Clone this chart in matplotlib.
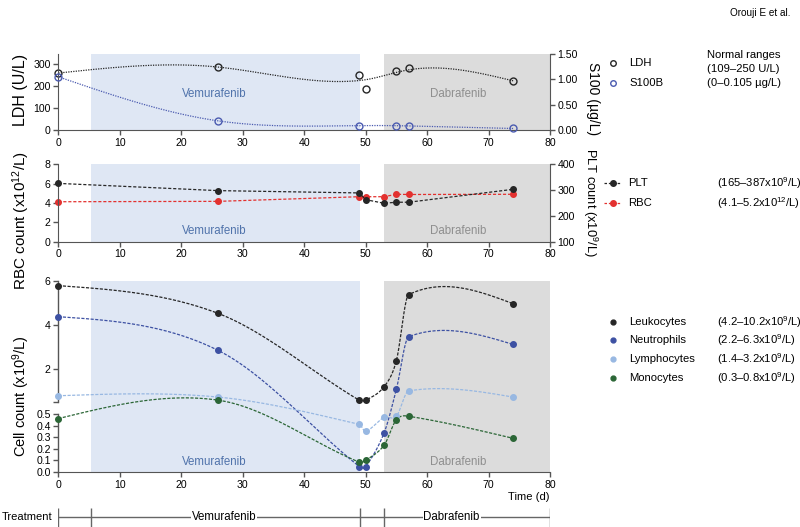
import numpy as np
import matplotlib
matplotlib.use('Agg')
import matplotlib.pyplot as plt
from matplotlib.lines import Line2D
from matplotlib.ticker import FormatStrFormatter

plt.rcParams['font.family'] = 'Liberation Sans'
plt.rcParams['mathtext.fontset'] = 'custom'
plt.rcParams['mathtext.rm'] = 'Liberation Sans'
plt.rcParams['mathtext.it'] = 'Liberation Sans:italic'

# ---- data ----
ldh_days = [0, 26, 49, 50, 55, 57, 74]
ldh = [258, 288, 250, 185, 270, 283, 221]
s100_days = [0, 26, 49, 55, 57, 74]
s100b = [1.05, 0.18, 0.086, 0.086, 0.08, 0.03]

days = [0, 26, 49, 50, 53, 55, 57, 74]
plt_count = [326, 298, 289, 263, 249, 253, 253, 303]
rbc = [4.13, 4.17, 4.65, 4.65, 4.65, 4.9, 4.88, 4.9]

leuko = [5.79, 4.53, 0.58, 0.58, 1.2, 2.38, 5.38, 4.97]
neutro = [4.38, 2.85, 0.046, 0.046, 0.336, 1.08, 3.47, 3.12]
lympho = [0.79, 0.73, 0.41, 0.35, 0.47, 0.48, 1.01, 0.73]
mono = [0.46, 0.59, 0.084, 0.10, 0.23, 0.45, 0.48, 0.29]

vem = (5.4, 49.1)
dab = (53.0, 80)
treat_marks = [0, 5.4, 49.1, 53.0, 80]

cell_labels = ['Leukocytes', 'Neutrophils', 'Lymphocytes', 'Monocytes']
cell_ranges = ['(4.2–10.2x10$^{9}$/L)', '(2.2–6.3x10$^{9}$/L)',
               '(1.4–3.2x10$^{9}$/L)', '(0.3–0.8x10$^{9}$/L)']

# colours
BLACK = '#262626'
S100C = '#4b5bb0'
NEUT = '#3d51a3'
LYMPH = '#98b8e2'
MONO = '#2b6636'
RED = '#e3312f'
VEM_BG = '#dfe7f4'
DAB_BG = '#dcdcdc'
VEM_TXT = '#5073ab'
DAB_TXT = '#8e8e8e'
AXC = '#555555'
FS = 8.1      # legend / annotation text
TFS = 7.6     # tick labels


def smooth(x, y, lam, step=0.1):
    # penalised smoothing curve over the measured points
    x = np.asarray(x, float)
    y = np.asarray(y, float)
    grid = np.arange(x[0], x[-1] + step / 2, step)
    n = len(grid)
    w = np.zeros(n)
    wy = np.zeros(n)
    idx = np.rint((x - grid[0]) / step).astype(int)
    np.add.at(w, idx, 1.0)
    np.add.at(wy, idx, y)
    d2 = np.diff(np.eye(n), 2, axis=0)
    z = np.linalg.solve(np.diag(w) + lam * d2.T @ d2, wy)
    return grid, z


def spline(x, y, step=0.1):
    # cubic Hermite curve through the points (finite-difference tangents)
    x = np.asarray(x, float)
    y = np.asarray(y, float)
    n = len(x)
    m = np.empty(n)
    m[1:-1] = (y[2:] - y[:-2]) / (x[2:] - x[:-2])
    m[0] = 1.5 * (y[1] - y[0]) / (x[1] - x[0]) - 0.5 * m[1]
    m[-1] = 1.5 * (y[-1] - y[-2]) / (x[-1] - x[-2]) - 0.5 * m[-2]
    xs = np.arange(x[0], x[-1] + step / 2, step)
    i = np.clip(np.searchsorted(x, xs, side='right') - 1, 0, n - 2)
    h = x[i + 1] - x[i]
    s = (xs - x[i]) / h
    h00 = 2 * s**3 - 3 * s**2 + 1
    h10 = s**3 - 2 * s**2 + s
    h01 = -2 * s**3 + 3 * s**2
    h11 = s**3 - s**2
    return xs, h00 * y[i] + h10 * h * m[i] + h01 * y[i + 1] + h11 * h * m[i + 1]


# broken y axis of the cell count panel: 0-0.5 stretched, gap, then 0.5-6
def fwd(y):
    y = np.asarray(y, float)
    return np.where(y <= 0.5, y * 116, np.where(y <= 0.51, 58 + (y - 0.5) * 1200, 70 + (y - 0.51) * 22))


def inv(t):
    t = np.asarray(t, float)
    return np.where(t <= 58, t / 116, np.where(t <= 70, 0.5 + (t - 58) / 1200, 0.51 + (t - 70) / 22))


W, H = 800, 527
fig = plt.figure(figsize=(8, 5.27), dpi=100)


def box(left, top, right, bottom):
    return [left / W, 1 - bottom / H, (right - left) / W, (bottom - top) / H]


def style(ax, twin=False):
    ax.spines['top'].set_visible(False)
    if twin:
        ax.spines['left'].set_visible(False)
        ax.spines['bottom'].set_visible(False)
        ax.spines['right'].set_color(AXC)
    else:
        ax.spines['right'].set_visible(False)
        ax.spines['left'].set_color(AXC)
        ax.spines['bottom'].set_color(AXC)
    ax.tick_params(labelsize=TFS, length=3.5, width=1, color=AXC, pad=2)
    ax.set_xlim(0, 80)
    ax.set_xticks(range(0, 81, 10))


def shade(ax, y_txt):
    ax.axvspan(*vem, color=VEM_BG, lw=0, zorder=0)
    ax.axvspan(*dab, color=DAB_BG, lw=0, zorder=0)
    ax.text(25.4, y_txt, 'Vemurafenib', color=VEM_TXT, fontsize=8.3, ha='center', va='center',
            transform=ax.get_xaxis_transform())
    ax.text(65, y_txt, 'Dabrafenib', color=DAB_TXT, fontsize=8.3, ha='center', va='center',
            transform=ax.get_xaxis_transform())


def fx(px):
    return px / W


def fy(py):
    return 1 - py / H


# ---- panel 1: LDH / S100B ----
ax1 = fig.add_axes(box(58.3, 54, 550, 130))
ax1r = ax1.twinx()
style(ax1)
style(ax1r, twin=True)
shade(ax1, 0.48)
ax1.set_ylim(0, 345)
ax1.set_yticks([0, 100, 200, 300])
ax1r.set_ylim(0, 1.5)
ax1r.set_yticks([0, 0.5, 1.0, 1.5])
ax1r.yaxis.set_major_formatter(FormatStrFormatter('%.2f'))

xg, zg = smooth(ldh_days, ldh, 3e4)
ax1.plot(xg, zg, color=BLACK, lw=0.9, ls=(0, (1, 1)))
ax1.plot(ldh_days, ldh, 'o', mfc='none', mec=BLACK, ms=5, mew=1, clip_on=False)
xg, zg = smooth(s100_days, s100b, 1e3)
ax1r.plot(xg, zg, color=S100C, lw=0.9, ls=(0, (1, 1)))
ax1r.plot(s100_days, s100b, 'o', mfc='none', mec=S100C, ms=5, mew=1, clip_on=False)

ax1.set_ylabel('LDH (U/L)', fontsize=11.5, va='center')
ax1.yaxis.set_label_coords(-0.076, 0.53)
ax1r.set_ylabel('S100 (µg/L)', fontsize=10, rotation=270, va='center', ha='center')
ax1r.yaxis.set_label_coords(1.088, 0.42)

# ---- panel 2: RBC / PLT ----
ax2 = fig.add_axes(box(58.3, 164.3, 550, 241.7))
ax2r = ax2.twinx()
style(ax2)
style(ax2r, twin=True)
shade(ax2, 0.14)
ax2.set_ylim(0, 8)
ax2.set_yticks(range(0, 9, 2))
ax2r.set_ylim(100, 400)
ax2r.set_yticks(range(100, 401, 100))

ax2.plot(days, rbc, color=RED, lw=0.9, ls=(0, (2.5, 1.5)), marker='o', ms=4, clip_on=False)
ax2r.plot(days, plt_count, color=BLACK, lw=0.9, ls=(0, (2.5, 1.5)), marker='o', ms=4, clip_on=False)

ax2.set_ylabel('RBC count (x10$^{12}$/L)', fontsize=11, va='center')
ax2.yaxis.set_label_coords(-0.076, 0.27)
ax2r.set_ylabel('PLT count (x10$^{9}$/L)', fontsize=9.3, rotation=270, va='center', ha='center')
ax2r.yaxis.set_label_coords(1.082, 0.5)

# ---- panel 3: cell counts ----
ax3 = fig.add_axes(box(58.3, 281, 550, 472))
style(ax3)
shade(ax3, 0.054)
ax3.set_yscale('function', functions=(fwd, inv))
ax3.spines['left'].set_visible(False)
ax3.plot([0, 0], [0, 0.5], transform=ax3.get_yaxis_transform(), color=AXC, lw=1, clip_on=False)
ax3.plot([0, 0], [0.51, 6], transform=ax3.get_yaxis_transform(), color=AXC, lw=1, clip_on=False)
yt = [0, 0.1, 0.2, 0.3, 0.4, 0.5, 0.51, 2, 4, 6]
ax3.set_yticks(yt)
ax3.set_yticklabels(['0.0', '0.1', '0.2', '0.3', '0.4', '0.5', '', '2', '4', '6'])
ax3.set_ylim(0, 6)

cell_series = [leuko, neutro, lympho, mono]
cell_colors = [BLACK, NEUT, LYMPH, MONO]
for vals, c in zip(cell_series, cell_colors):
    xg, zg = spline(days, fwd(vals))
    ax3.plot(xg, inv(zg), color=c, lw=0.9, ls=(0, (2.5, 1.2)))
    ax3.plot(days, vals, 'o', color=c, ms=4, clip_on=False, zorder=3)

ax3.set_ylabel('Cell count (x10$^{9}$/L)', fontsize=10.5, va='center')
ax3.yaxis.set_label_coords(-0.076, 0.40)
ax3.text(1.0, -0.13, 'Time (d)', transform=ax3.transAxes, ha='right', va='center', fontsize=FS)

# ---- treatment timeline ----
axt = fig.add_axes(box(58.3, 505, 550, 527))
axt.set_xlim(0, 80)
axt.set_ylim(0, 1)
axt.axis('off')
axt.hlines(0.44, 0, 80, color='#666666', lw=1)
axt.vlines(treat_marks, 0, 0.86, color='#666666', lw=1)
axt.text(27.0, 0.44, 'Vemurafenib', ha='center', va='center', fontsize=8.3,
         bbox=dict(fc='white', ec='none', pad=0.5))
axt.text(64.0, 0.44, 'Dabrafenib', ha='center', va='center', fontsize=8.3,
         bbox=dict(fc='white', ec='none', pad=0.5))
axt.text(-1.0, 0.44, 'Treatment', ha='right', va='center', fontsize=8.0, clip_on=False)

# ---- legends and normal ranges ----
fig.text(fx(730), fy(13), 'Orouji E et al.', fontsize=7.2, va='center')
fig.text(fx(706.7), fy(55), 'Normal ranges', fontsize=FS, va='center')
fig.text(fx(706.7), fy(69), '(109–250 U/L)', fontsize=FS, va='center')
fig.text(fx(706.7), fy(83), '(0–0.105 µg/L)', fontsize=FS, va='center')

for py, lab, c in [(63.3, 'LDH', BLACK), (82.7, 'S100B', S100C)]:
    fig.add_artist(Line2D([fx(613)], [fy(py)], marker='o', mfc='none', mec=c, ms=4, mew=1, ls='none'))
    fig.text(fx(629), fy(py), lab, fontsize=FS, va='center')

for py, lab, c, rng in [(182.7, 'PLT', BLACK, '(165–387x10$^{9}$/L)'),
                        (203.3, 'RBC', RED, '(4.1–5.2x10$^{12}$/L)')]:
    fig.add_artist(Line2D([fx(604), fx(621)], [fy(py), fy(py)], color=c, lw=0.9, ls=(0, (2, 1.5))))
    fig.add_artist(Line2D([fx(612.5)], [fy(py)], marker='o', color=c, ms=4, ls='none'))
    fig.text(fx(628), fy(py), lab, fontsize=FS, va='center')
    fig.text(fx(716.7), fy(py), rng, fontsize=FS, va='center')

for i, (lab, c, rng) in enumerate(zip(cell_labels, cell_colors, cell_ranges)):
    py = 321.7 + i * 18.7
    fig.add_artist(Line2D([fx(613)], [fy(py)], marker='o', color=c, ms=3.5, ls='none'))
    fig.text(fx(629), fy(py), lab, fontsize=FS, va='center')
    fig.text(fx(716.7), fy(py), rng, fontsize=FS, va='center')

fig.savefig('out.png', dpi=100)
